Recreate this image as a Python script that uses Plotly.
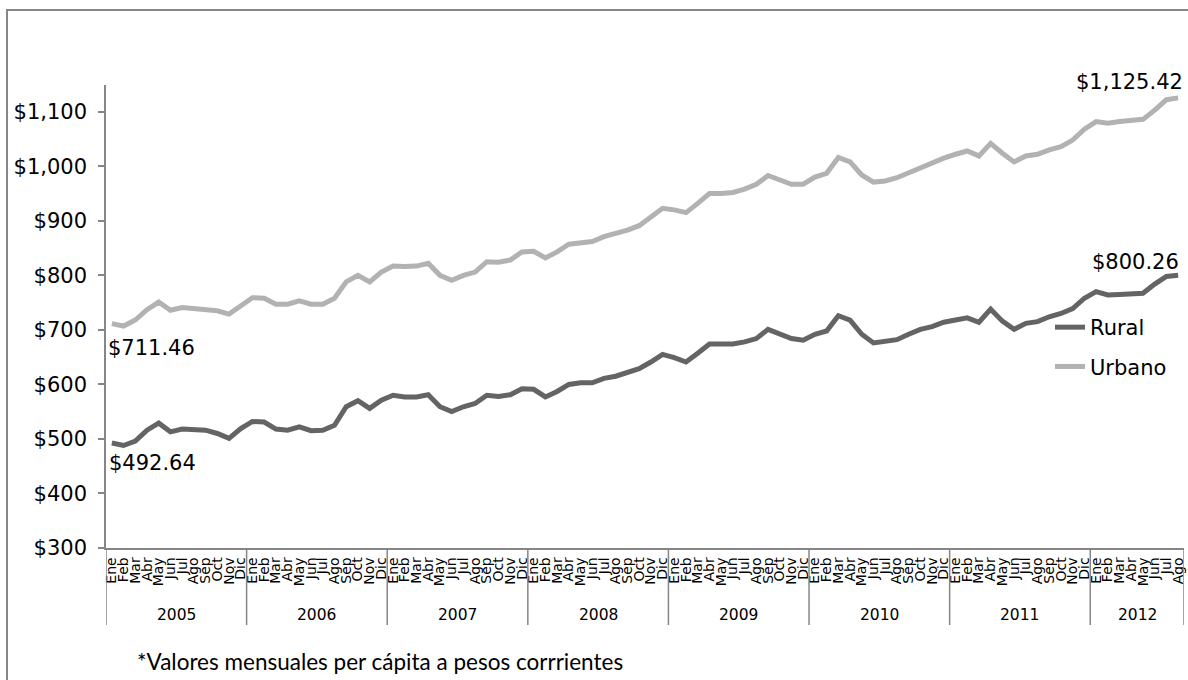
import plotly.graph_objects as go

# Monthly per-capita values, Jan 2005 - Aug 2012 (current pesos)
meses = ["Ene", "Feb", "Mar", "Abr", "May", "Jun", "Jul", "Ago", "Sep", "Oct", "Nov", "Dic"]
anios = ["2005", "2006", "2007", "2008", "2009", "2010", "2011", "2012"]
meses_por_anio = [12, 12, 12, 12, 12, 12, 12, 8]

rural = [492.64, 488, 496, 516, 529, 513, 518, 516, 516, 510, 501, 519,
         532, 531, 518, 516, 522, 515, 516, 525, 559, 570, 556, 571,
         580, 577, 577, 581, 559, 550, 559, 565, 580, 578, 581, 592,
         591, 577, 587, 600, 603, 603, 611, 615, 621, 629, 641, 655,
         649, 641, 657, 674, 674, 674, 678, 684, 701, 693, 684, 681,
         692, 698, 726, 718, 692, 676, 678, 682, 692, 701, 706, 714,
         718, 722, 714, 738, 716, 701, 712, 715, 724, 730, 739, 758,
         770, 764, 765, 765, 767, 784, 798, 800.26]

urbano = [711.46, 707, 718, 737, 751, 736, 741, 739, 739, 735, 729, 745,
          759, 758, 747, 747, 753, 747, 747, 758, 788, 800, 788, 806,
          817, 816, 817, 822, 800, 791, 800, 806, 825, 824, 828, 843,
          844, 832, 843, 857, 860, 862, 871, 876, 883, 891, 907, 923,
          920, 915, 932, 950, 950, 952, 958, 967, 983, 976, 967, 967,
          980, 987, 1016, 1008, 984, 971, 973, 979, 988, 998, 1005, 1015,
          1022, 1028, 1019, 1042, 1024, 1008, 1019, 1022, 1030, 1036, 1048, 1068,
          1082, 1079, 1082, 1084, 1086, 1103, 1122, 1125.42]

y_ticks = [300, 400, 500, 600, 700, 800, 900, 1000, 1100]
nota = "*Valores mensuales per cápita a pesos corrrientes"

# category positions and month labels
etiquetas = []
for n in meses_por_anio:
    etiquetas += meses[:n]
x = list(range(len(etiquetas)))

GRIS_EJE = "#868686"
C_RURAL = "#646464"
C_URBANO = "#b2b2b2"
FONT = "DejaVu Sans"

fig = go.Figure()
fig.add_trace(go.Scatter(x=x, y=rural, mode="lines", name="Rural",
                         line=dict(color=C_RURAL, width=5),
                         legendgroup="r"))
fig.add_trace(go.Scatter(x=x, y=urbano, mode="lines", name="Urbano",
                         line=dict(color=C_URBANO, width=5),
                         legendgroup="u"))

W, H = 1188, 680
L, R, T, B = 106, 4, 85, 132

def py(px):
    # pixel row -> paper y
    return (H - B - px) / (H - T - B)

def pxx(px):
    # pixel column -> paper x
    return (px - L) / (W - L - R)

shapes = []
# outer chart frame
shapes.append(dict(type="rect", xref="paper", yref="paper",
                   x0=pxx(7), x1=pxx(1300), y0=py(800), y1=py(10),
                   line=dict(color=GRIS_EJE, width=2), fillcolor="rgba(0,0,0,0)",
                   layer="below"))
# year separators under the category axis
limites = [-0.5]
for n in meses_por_anio:
    limites.append(limites[-1] + n)
for b in limites:
    shapes.append(dict(type="line", xref="x", yref="paper",
                       x0=b, x1=b, y0=0, y1=py(625),
                       line=dict(color=GRIS_EJE, width=1.5)))

annotations = []
for i, a in enumerate(anios):
    c = (limites[i] + limites[i + 1]) / 2
    annotations.append(dict(x=c, y=py(615), xref="x", yref="paper",
                            text=a, showarrow=False, yanchor="middle",
                            font=dict(family=FONT, size=15.5, color="#000")))

def fmt(v):
    return "${:,.2f}".format(v)

lbl_font = dict(family=FONT, size=21, color="#000")
annotations += [
    dict(x=x[0], y=urbano[0], xref="x", yref="y", text=fmt(urbano[0]),
         showarrow=False, xanchor="left", yanchor="middle", xshift=-6, yshift=-24,
         font=lbl_font),
    dict(x=x[0], y=rural[0], xref="x", yref="y", text=fmt(rural[0]),
         showarrow=False, xanchor="left", yanchor="middle", xshift=-5, yshift=-20,
         font=lbl_font),
    dict(x=x[-1], y=urbano[-1], xref="x", yref="y", text=fmt(urbano[-1]),
         showarrow=False, xanchor="right", yanchor="middle", xshift=7, yshift=16,
         font=lbl_font),
    dict(x=x[-1], y=rural[-1], xref="x", yref="y", text=fmt(rural[-1]),
         showarrow=False, xanchor="right", yanchor="middle", xshift=3, yshift=13,
         font=lbl_font),
    dict(x=pxx(135), y=py(661), xref="paper", yref="paper", text=nota,
         showarrow=False, xanchor="left", yanchor="middle",
         font=dict(family="Lato", size=22.5, color="#000")),
]

fig.update_layout(
    width=W, height=H,
    margin=dict(l=L, r=R, t=T, b=B, autoexpand=False),
    paper_bgcolor="white", plot_bgcolor="white",
    showlegend=True,
    legend=dict(x=pxx(1050), y=py(307), xanchor="left", yanchor="top",
                bgcolor="rgba(0,0,0,0)", borderwidth=0,
                traceorder="grouped", tracegroupgap=9,
                font=dict(family=FONT, size=21, color="#000")),
    shapes=shapes,
    annotations=annotations,
    xaxis=dict(range=[-0.5, len(x) - 0.5], tickmode="array", tickvals=x,
               ticktext=etiquetas, tickangle=-90, showgrid=False, zeroline=False,
               showline=True, linecolor=GRIS_EJE, linewidth=1.5, ticks="",
               ticklabelstandoff=2, automargin=False,
               tickfont=dict(family=FONT, size=14, color="#000")),
    yaxis=dict(range=[300, 1149], tickmode="array", tickvals=y_ticks,
               ticktext=["${:,}".format(v) for v in y_ticks],
               showgrid=False, zeroline=False,
               showline=True, linecolor=GRIS_EJE, linewidth=1.5,
               ticks="outside", ticklen=6, tickcolor=GRIS_EJE, tickwidth=1.5,
               ticklabelstandoff=7, automargin=False,
               tickfont=dict(family=FONT, size=21, color="#000")),
)

fig.write_html("out.html")
